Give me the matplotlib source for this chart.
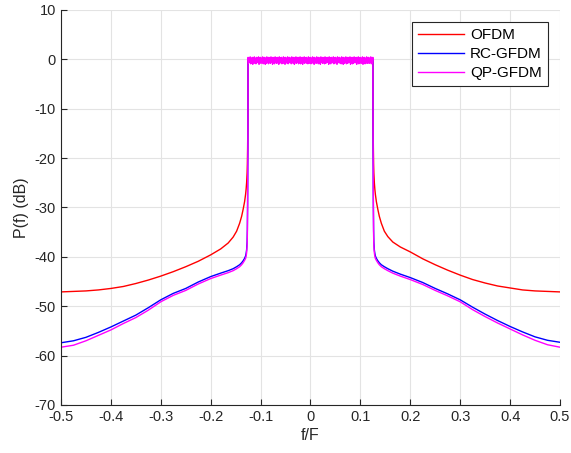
import numpy as np
import matplotlib
matplotlib.use('Agg')
import matplotlib.pyplot as plt

plt.rcParams['font.family'] = ['Liberation Sans', 'DejaVu Sans']
plt.rcParams['axes.unicode_minus'] = False

# stopband, left side (f/F, dB)
f_left = [-0.5, -0.475, -0.45, -0.425, -0.4, -0.375, -0.35, -0.325, -0.3,
          -0.275, -0.25, -0.225, -0.2, -0.18, -0.165, -0.155, -0.148, -0.142,
          -0.138, -0.135, -0.132, -0.13, -0.129, -0.128, -0.127, -0.1265,
          -0.126, -0.1255]
ofdm_left = [-47.1, -47.0, -46.9, -46.7, -46.4, -46.0, -45.4, -44.7, -43.9,
             -43.0, -42.0, -40.9, -39.6, -38.4, -37.2, -36.0, -34.8, -33.2,
             -31.8, -30.4, -28.8, -27.3, -26.3, -25.0, -23.0, -21.2,
             -18.0, -13.0]
rc_left = [-57.4, -57.0, -56.3, -55.3, -54.2, -53.0, -51.8, -50.3, -48.7,
           -47.4, -46.4, -45.1, -44.0, -43.3, -42.8, -42.4, -42.0, -41.6,
           -41.2, -40.8, -40.3, -39.8, -39.3, -38.6, -37.0, -34.5,
           -29.0, -18.0]
qp_left = [-58.3, -57.9, -57.0, -55.9, -54.8, -53.5, -52.3, -50.8, -49.1,
           -47.8, -46.8, -45.5, -44.4, -43.7, -43.2, -42.8, -42.4, -42.0,
           -41.6, -41.2, -40.7, -40.3, -39.9, -39.2, -37.8, -35.5,
           -30.0, -19.0]

# stopband, right side
f_right = [0.1255, 0.126, 0.1265, 0.127, 0.128, 0.129, 0.13, 0.132, 0.135,
           0.138, 0.142, 0.148, 0.155, 0.165, 0.18, 0.2, 0.225, 0.25, 0.275,
           0.3, 0.325, 0.35, 0.375, 0.4, 0.425, 0.45, 0.475, 0.5]
ofdm_right = [-13.0, -18.0, -21.2, -23.0, -25.0, -26.3, -27.3, -28.8, -30.4,
              -31.8, -33.2, -34.8, -35.9, -37.0, -38.0, -39.0, -40.4, -41.6,
              -42.7, -43.7, -44.6, -45.3, -45.9, -46.3, -46.7, -46.9, -47.0,
              -47.1]
rc_right = [-18.0, -29.0, -34.5, -37.0, -38.6, -39.3, -39.8, -40.3, -40.8,
            -41.2, -41.6, -42.0, -42.4, -42.9, -43.5, -44.2, -45.2, -46.4,
            -47.5, -48.7, -50.2, -51.6, -52.9, -54.1, -55.2, -56.2, -56.9,
            -57.3]
qp_right = [-19.0, -30.0, -35.5, -37.8, -39.2, -39.9, -40.3, -40.7, -41.2,
            -41.6, -42.0, -42.4, -42.8, -43.3, -43.9, -44.6, -45.6, -46.8,
            -47.9, -49.1, -50.7, -52.1, -53.4, -54.6, -55.8, -56.9, -57.8,
            -58.3]

# passband ripple (dB), evenly spaced over [-0.125, 0.125]
ofdm_pass = [0.1, -0.3, 0.2, -0.2, 0.1, -0.4, 0.2, -0.1, 0.0, -0.3, 0.2,
             -0.2, 0.1, -0.3, 0.2, -0.1, 0.1, -0.4, 0.2, -0.2, 0.1]
rc_pass = [0.2, -0.4, 0.1, -0.3, 0.2, -0.2, 0.1, -0.5, 0.2, -0.3, 0.1,
           -0.2, 0.3, -0.4, 0.1, -0.3, 0.2, -0.2, 0.1, -0.4, 0.2]
qp_pass = [0.4, -0.8, 0.3, -0.6, 0.5, -0.9, 0.2, -0.7, 0.4, -1.0,
           0.3, -0.6, 0.5, -0.8, 0.2, -0.9, 0.4, -0.7, 0.3, -0.6,
           0.5, -1.0, 0.3, -0.7, 0.4, -0.8, 0.2, -0.6, 0.5, -0.9,
           0.3, -0.7, 0.4, -1.0, 0.2, -0.8, 0.5, -0.6, 0.3, -0.9,
           0.4, -0.7, 0.2, -0.8, 0.5, -0.6, 0.3, -1.0, 0.4, -0.7,
           0.2, -0.9, 0.5, -0.6, 0.3, -0.8, 0.4, -0.7, 0.2, -1.0,
           0.5, -0.8, 0.3, -0.6, 0.4, -0.9, 0.2, -0.7, 0.5, -0.8,
           0.3, -1.0, 0.4, -0.6, 0.2, -0.8, 0.5, -0.9, 0.3, -0.7,
           0.4, -0.6, 0.2, -0.9, 0.5, -0.7, 0.3, -0.8, 0.4, -1.0,
           0.2, -0.7, 0.5, -0.8, 0.3, -0.6, 0.4, -0.9, 0.2, -0.7,
           0.5, -0.9, 0.3, -0.7, 0.4, -1.0, 0.2, -0.6, 0.5, -0.8,
           0.3, -0.6, 0.4, -0.8, 0.2, -0.9, 0.5, -0.7, 0.3, -0.8,
           0.4, -0.9, 0.2, -0.6, 0.5, -0.8, 0.3, -1.0, 0.4, -0.7,
           0.2, -0.8, 0.5, -0.6, 0.3, -0.9, 0.4, -0.7, 0.2, -1.0,
           0.5, -0.6, 0.3, -0.8, 0.4, -0.7, 0.2, -0.9, 0.5, -0.8,
           0.3, -0.7, 0.4, -0.6, 0.2, -1.0, 0.5, -0.8, 0.3, -0.9,
           0.4, -0.6, 0.2, -0.7, 0.5, -0.9, 0.3, -0.8, 0.4, -0.6,
           0.2, -1.0, 0.5, -0.7, 0.3, -0.6, 0.4, -0.8, 0.2, -0.9,
           0.5, -0.7, 0.3, -1.0, 0.4, -0.8, 0.2, -0.6, 0.5, -0.9,
           0.3, -0.8, 0.4, -0.7, 0.2, -0.6, 0.5, -1.0, 0.3, -0.7,
           0.4, -0.9, 0.2, -0.8, 0.5, -0.6, 0.3, -0.7, 0.4, -1.0,
           0.2, -0.6, 0.5, -0.9, 0.3, -0.8, 0.4, -0.7, 0.2, -0.8,
           0.5, -1.0, 0.3, -0.6, 0.4, -0.9, 0.2, -0.7, 0.5, -0.8,
           0.3, -0.7, 0.4, -0.8, 0.2, -0.6, 0.5, -0.9, 0.3, -0.7, 0.4]

labels = ['OFDM', 'RC-GFDM', 'QP-GFDM']
colors = ['#ff0000', '#0000ff', '#ff00ff']


def build(left, passband, right):
    fp = np.linspace(-0.125, 0.125, len(passband))
    f = np.concatenate([f_left, fp, f_right])
    p = np.concatenate([left, passband, right])
    return f, p


series = [build(ofdm_left, ofdm_pass, ofdm_right),
          build(rc_left, rc_pass, rc_right),
          build(qp_left, qp_pass, qp_right)]

fig = plt.figure(figsize=(5.71, 4.53), dpi=100)
ax = fig.add_axes([0.1068, 0.106, 0.8739, 0.872])

for (f, p), lab, c in zip(series, labels, colors):
    ax.plot(f, p, color=c, lw=1.0, label=lab)

ax.set_xlim(-0.5, 0.5)
ax.set_ylim(-70, 10)
ax.set_xticks(np.arange(-0.5, 0.51, 0.1))
ax.set_xticklabels(['-0.5', '-0.4', '-0.3', '-0.2', '-0.1', '0',
                    '0.1', '0.2', '0.3', '0.4', '0.5'])
ax.set_yticks(np.arange(-70, 11, 10))
ax.grid(True, color='#e3e3e3', lw=0.8)
ax.set_axisbelow(True)
for s in ['top', 'right']:
    ax.spines[s].set_visible(False)
for s in ['left', 'bottom']:
    ax.spines[s].set_color('#262626')
    ax.spines[s].set_linewidth(0.8)
ax.tick_params(direction='in', length=4, width=0.8, colors='#262626',
               labelsize=10.5)
ax.set_xlabel('f/F', fontsize=11.5, color='#262626', labelpad=3)
ax.set_ylabel('P(f) (dB)', fontsize=11.5, color='#262626', labelpad=4)

leg = ax.legend(loc='upper right', bbox_to_anchor=(0.976, 0.970),
                borderaxespad=0, fancybox=False, framealpha=1,
                edgecolor='#262626', fontsize=11, handlelength=3.0,
                labelspacing=0.33, borderpad=0.4, handletextpad=0.4)
leg.get_frame().set_linewidth(0.8)

fig.savefig('out.png', dpi=100)
